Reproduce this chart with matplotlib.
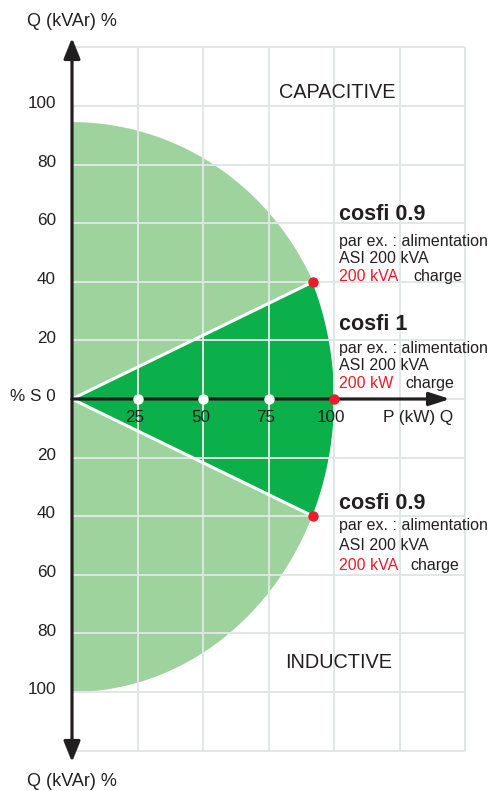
import numpy as np
import matplotlib
matplotlib.use("Agg")
import matplotlib.pyplot as plt
from matplotlib.patches import Polygon

plt.rcParams['font.family'] = ['Liberation Sans', 'DejaVu Sans']

# ---------------- data ----------------
grid_x = [0, 25, 50, 75, 100, 125, 150]
grid_y = [-120, -100, -80, -60, -40, -20, 0, 20, 40, 60, 80, 100, 120]
ytick_values = [100, 80, 60, 40, 20, 0, -20, -40, -60, -80, -100]
ytick_labels = ["100", "80", "60", "40", "20", "% S 0", "20", "40", "60", "80", "100"]
xtick_values = [25, 50, 75, 100]
xtick_labels = ["25", "50", "75", "100"]
cosfi_P = [92, 100, 92]          # red operating points (P %)
cosfi_Q = [40, 0, -40]           # red operating points (Q %)
load_P = [25, 50, 75]            # white points on the P axis
S_radius = 100                   # apparent power (%)
upper_top = 94.5                 # top of capacitive area (%)

DARK = '#231f20'
LIGHT_GREEN = '#9ed39d'
DARK_GREEN = '#0cb04b'
RED = '#ec1c2a'
GRID = '#e1e6e6'

# pixel mapping helpers (layout only)
W, H = 503, 791
OX, OY = 72, 399
SX, SY = 2.62, 2.93

fig = plt.figure(figsize=(W / 100, H / 100), dpi=100)
ax = fig.add_axes([0, 0, 1, 1])
ax.set_xlim(-OX / SX, (W - OX) / SX)
ax.set_ylim((OY - H) / SY, OY / SY)
ax.axis('off')

def fp(px, py):
    return px / W, 1 - py / H

# ---------------- areas ----------------
a_up = cosfi_P[0] / np.sqrt(1 - (cosfi_Q[0] / upper_top) ** 2)
t_end = np.arcsin(cosfi_Q[0] / upper_top)
t = np.linspace(np.pi / 2, t_end, 80)
up = np.column_stack([a_up * np.cos(t), upper_top * np.sin(t)])
up = np.vstack([[0, 0], up])
ax.add_patch(Polygon(up, closed=True, fc=LIGHT_GREEN, ec='none', zorder=1))

ang_lo = np.arctan2(cosfi_Q[2], cosfi_P[2])
t = np.linspace(ang_lo, -np.pi / 2, 80)
lo = np.column_stack([S_radius * np.cos(t), S_radius * np.sin(t)])
lo = np.vstack([[0, 0], lo])
ax.add_patch(Polygon(lo, closed=True, fc=LIGHT_GREEN, ec='none', zorder=1))

ang_up = np.arctan2(cosfi_Q[0], cosfi_P[0])
t = np.linspace(ang_up, ang_lo, 80)
sec = np.column_stack([S_radius * np.cos(t), S_radius * np.sin(t)])
sec = np.vstack([[0, 0], [cosfi_P[0], cosfi_Q[0]], sec, [cosfi_P[2], cosfi_Q[2]]])
ax.add_patch(Polygon(sec, closed=True, fc=DARK_GREEN, ec='none', zorder=2))

# ---------------- grid ----------------
for gx in grid_x[1:]:
    ax.plot([gx, gx], [grid_y[0], grid_y[-1]], color=GRID, lw=1.4, zorder=3,
            solid_capstyle='butt')
for gy in grid_y:
    ax.plot([grid_x[0], grid_x[-1]], [gy, gy], color=GRID, lw=1.4, zorder=3,
            solid_capstyle='butt')

for i in (0, 2):
    ax.plot([0, cosfi_P[i]], [0, cosfi_Q[i]], color='white', lw=2.2, zorder=4)

# ---------------- axes arrows ----------------
ax.annotate('', xy=(0, (OY - 38) / SY), xytext=(0, (OY - 762) / SY),
            arrowprops=dict(arrowstyle='<|-|>,head_length=0.62,head_width=0.25',
                            mutation_scale=20, lw=2.3, color=DARK,
                            shrinkA=0, shrinkB=0), zorder=5)
ax.annotate('', xy=((450 - OX) / SX, 0), xytext=(0, 0),
            arrowprops=dict(arrowstyle='-|>,head_length=0.62,head_width=0.2',
                            mutation_scale=20, lw=2.3, color=DARK,
                            shrinkA=0, shrinkB=0), zorder=5)

# ---------------- points ----------------
ax.plot(load_P, [0] * len(load_P), 'o', ms=7.5, mfc='white', mec='none', zorder=6)
ax.plot(cosfi_P, cosfi_Q, 'o', ms=7.5, mfc=RED, mec='none', zorder=6)

# ---------------- texts ----------------
ax_fs = 12.3
for v, lab in zip(ytick_values, ytick_labels):
    ax.text((56 - OX) / SX, v + 0.8, lab, ha='right', va='center',
            fontsize=ax_fs, color=DARK, zorder=7)
for v, lab in zip(xtick_values, xtick_labels):
    ax.text(v - 1, (OY - 418) / SY, lab, ha='center', va='center',
            fontsize=ax_fs, color=DARK, zorder=7)

fig.text(*fp(27, 22), "Q (kVAr) %", ha='left', va='center', fontsize=13, color=DARK)
fig.text(*fp(27, 782), "Q (kVAr) %", ha='left', va='center', fontsize=13, color=DARK)
fig.text(*fp(383, 418), "P (kW) Q", ha='left', va='center', fontsize=ax_fs, color=DARK)

fig.text(*fp(279, 93), "CAPACITIVE", ha='left', va='center', fontsize=14.3, color=DARK)
fig.text(*fp(285, 663), "INDUCTIVE", ha='left', va='center', fontsize=14.3, color=DARK)

blocks = [
    ("cosfi 0.9", 220, (246, 263, 281), "200 kVA", 413),
    ("cosfi 1", 330, (353, 370, 388), "200 kW", 405),
    ("cosfi 0.9", 509, (530, 550, 570), "200 kVA", 410),
]
sfs = 11.5
for title, tb, (b1, b2, b3), red, cx in blocks:
    fig.text(*fp(339, tb), title, ha='left', va='baseline', fontsize=15.5,
             fontweight='bold', color=DARK)
    fig.text(*fp(339, b1), "par ex. : alimentation", ha='left', va='baseline',
             fontsize=sfs, color=DARK)
    fig.text(*fp(339, b2), "ASI 200 kVA", ha='left', va='baseline',
             fontsize=sfs, color=DARK)
    fig.text(*fp(339, b3), red, ha='left', va='baseline', fontsize=sfs, color=RED)
    fig.text(*fp(cx, b3), "charge", ha='left', va='baseline', fontsize=sfs, color=DARK)

fig.savefig("out.png", dpi=100, facecolor='white')
